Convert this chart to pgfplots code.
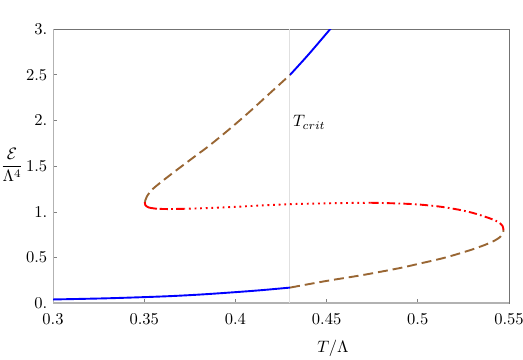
\documentclass[border=0pt]{standalone}
\usepackage{pgfplots}
\pgfplotsset{compat=1.18}
\definecolor{mbrown}{rgb}{0.6,0.4,0.2}
\begin{document}
\begin{tikzpicture}
\begin{axis}[
  name=ax,
  scale only axis, width=276pt, height=166pt,
  xmin=0.3, xmax=0.55, ymin=0, ymax=3,
  xtick={0.3,0.35,0.4,0.45,0.5,0.55},
  xticklabels={0.3,0.35,0.4,0.45,0.5,0.55},
  ytick={0,0.5,1,1.5,2,2.5,3},
  yticklabels={0.,0.5,1.,1.5,2.,2.5,3.},
  xtick pos=bottom, ytick pos=left,
  tick align=inside, major tick length=2.5pt,
  tick style={gray, thin},
  axis line style={draw=black!55, line width=0.5pt},
  xticklabel style={yshift=-2.5pt},
  xlabel={$T/\Lambda$},
  every axis x label/.style={at={(rel axis cs:0.614,-0.165)}, anchor=center},
  ylabel={$\displaystyle\frac{\mathcal{E}}{\Lambda^4}$},
  every axis y label/.style={at={(rel axis cs:-0.09,0.504)}, anchor=center},
  clip=true,
]
\draw[black!30, line width=1.1pt] (rel axis cs:0,1) -- (rel axis cs:0,0) -- (rel axis cs:1,0);
\addplot[black!12, line width=0.6pt] coordinates {(0.4295,0) (0.4295,3)};
\node[anchor=west, inner sep=1pt] at (axis cs:0.4305,1.98) {$T_{crit}$};
% lower stable branch
\addplot[blue, line width=1.15pt, smooth] coordinates {
(0.3,0.042) (0.33,0.055) (0.36,0.075) (0.38,0.095) (0.4,0.122) (0.415,0.145) (0.43,0.172)};
% lower metastable
\addplot[mbrown, line width=1.15pt, smooth, dash pattern=on 6pt off 3pt] coordinates {
(0.43,0.172) (0.45,0.245) (0.47,0.31) (0.49,0.385) (0.5,0.43) (0.515,0.5) (0.53,0.59) (0.54,0.665) (0.5448,0.72) (0.5466,0.765) (0.547,0.80)};
% unstable branch, right part dash-dot
\addplot[red, line width=1.15pt, smooth, dash pattern=on 5pt off 2pt on 1pt off 2pt] coordinates {
(0.547,0.80) (0.5465,0.845) (0.5445,0.885) (0.541,0.918) (0.5365,0.95) (0.53,0.99) (0.523,1.022) (0.512,1.058) (0.501,1.08) (0.49,1.092) (0.474,1.10)};
% middle dotted
\addplot[red, line width=1.15pt, smooth, dash pattern=on 1.1pt off 2.3pt] coordinates {
(0.474,1.10) (0.46,1.097) (0.4464,1.092) (0.43,1.085) (0.41,1.066) (0.397,1.052) (0.385,1.042) (0.372,1.034)};
% near nose dash-dot
\addplot[red, line width=1.15pt, smooth, dash pattern=on 5pt off 2pt on 1pt off 2pt] coordinates {
(0.372,1.034) (0.363,1.031) (0.357,1.034)};
\addplot[red, line width=1.15pt, smooth] coordinates {
(0.357,1.034) (0.3525,1.048) (0.3506,1.075) (0.3504,1.11)};
% upper metastable
\addplot[mbrown, line width=1.15pt, smooth, dash pattern=on 6pt off 3pt] coordinates {
(0.3504,1.11) (0.3515,1.17) (0.355,1.256) (0.364,1.40) (0.375,1.566) (0.386,1.73) (0.397,1.91) (0.408,2.10) (0.419,2.30) (0.43,2.50)};
% upper stable
\addplot[blue, line width=1.15pt, smooth] coordinates {
(0.43,2.50) (0.44,2.72) (0.452,3.0) (0.455,3.07)};
\end{axis}
\pgfresetboundingbox
\path[use as bounding box] ([xshift=-32.1pt,yshift=-33.9pt]ax.south west) rectangle ([xshift=8.5pt,yshift=17.6pt]ax.north east);
\end{tikzpicture}
\end{document}
